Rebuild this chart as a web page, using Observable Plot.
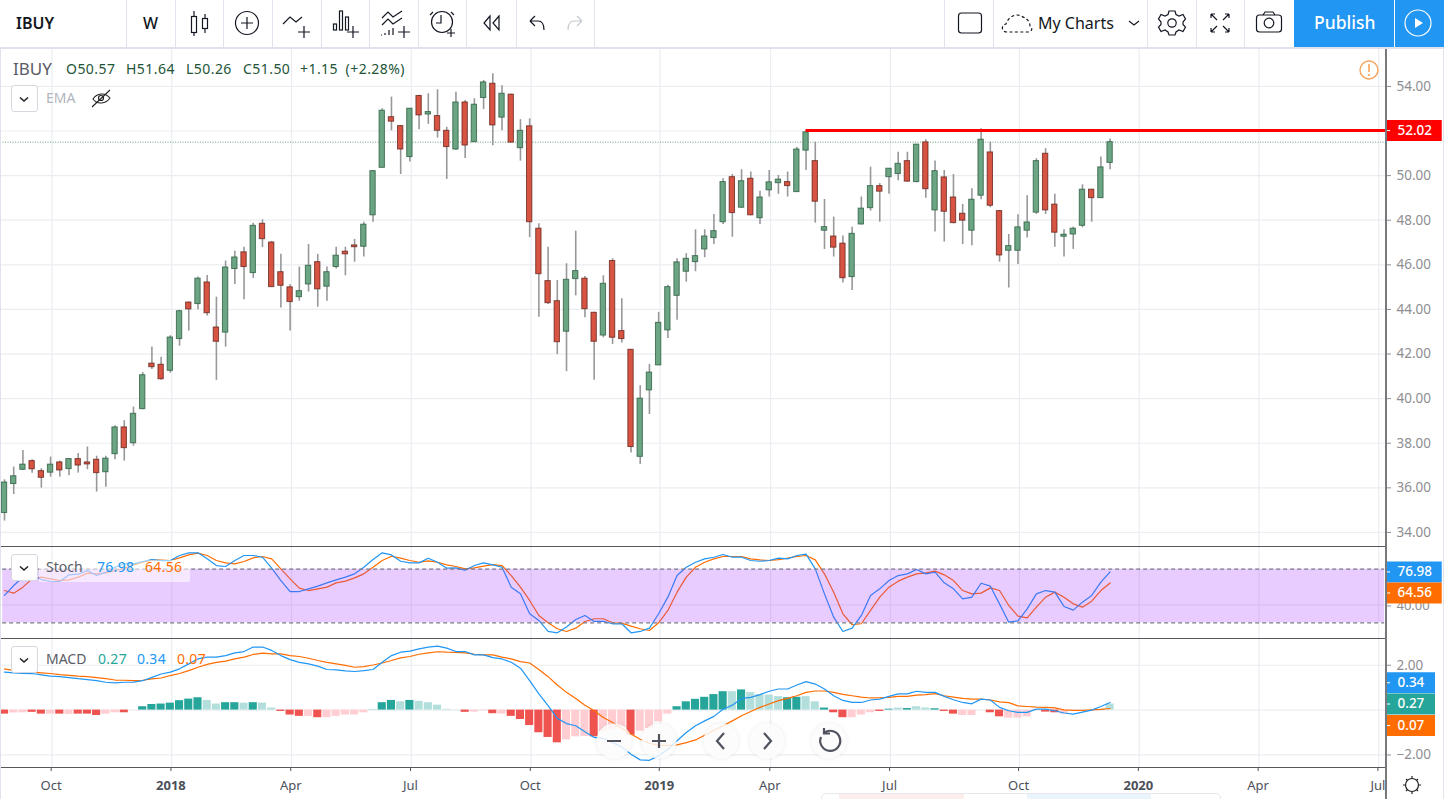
<!DOCTYPE html>
<html><head><meta charset="utf-8">
<script src="https://cdn.jsdelivr.net/npm/d3@7"></script>
<script src="https://cdn.jsdelivr.net/npm/@observablehq/plot@0.6"></script>
<style>
html,body{margin:0;padding:0;background:#fff;overflow:hidden}
#chart{position:relative;width:1444px;height:799px;overflow:hidden;font-family:"Noto Sans",sans-serif;background:#fff}
#chart svg{position:absolute;display:block}
.t{position:absolute;transform:translateY(-50%);white-space:nowrap;line-height:1}
.c{position:absolute}
.btn{position:absolute;left:11px;width:25px;height:25px;border:1px solid #d6d8e0;border-radius:3px;background:#fff;box-sizing:content-box}
</style></head><body><div id="chart"></div>
<script>
const barOpen=[34.87,36.17,36.81,37.20,36.75,36.68,37.14,36.84,37.29,37.14,
37.26,36.70,37.51,38.71,38.00,39.53,41.57,41.52,41.25,42.67,
44.31,44.24,45.21,43.19,42.96,45.81,46.56,45.63,47.84,47.00,
45.67,44.99,44.55,45.12,46.12,45.02,45.90,46.59,46.87,46.81,
48.22,50.35,52.62,52.22,50.83,53.57,52.74,52.67,52.01,51.17,
53.28,51.50,53.48,54.12,52.60,53.63,51.23,52.21,47.62,45.27,
44.37,43.00,45.36,45.38,43.85,42.83,46.17,43.03,42.19,37.39,
40.37,41.49,43.06,44.61,45.69,46.12,46.69,47.20,47.91,49.93,
48.56,49.86,48.09,49.34,49.66,49.71,49.26,51.12,50.65,47.53,
47.27,46.95,45.45,47.81,48.54,49.53,49.93,50.07,50.65,49.71,
51.49,48.44,49.92,49.02,48.29,47.53,49.10,51.04,48.41,46.63,
46.63,47.53,48.34,50.98,48.70,47.26,47.36,47.75,49.37,48.99,
50.57];
const barHigh=[36.36,36.93,37.68,37.26,36.86,37.38,37.20,37.31,37.54,37.83,
37.42,37.42,38.78,39.01,39.62,41.17,42.31,41.86,42.82,43.96,
44.33,45.45,45.52,44.55,46.17,46.61,46.79,47.86,48.02,47.05,
46.47,45.11,45.90,46.91,46.47,45.90,46.79,46.79,47.14,47.91,
50.23,53.00,53.52,52.25,53.01,53.60,53.67,53.85,52.17,53.74,
53.37,53.45,54.27,54.57,54.03,53.65,52.51,52.55,47.84,46.79,
45.30,46.05,47.51,45.48,43.87,45.51,46.27,44.48,42.20,40.58,
41.53,43.87,45.08,46.27,46.50,47.57,47.57,48.26,49.86,50.05,
50.26,50.16,49.30,50.23,50.01,50.16,51.26,52.02,51.50,48.93,
48.14,47.29,47.69,49.04,50.38,49.64,50.32,51.05,51.05,51.40,
51.61,50.65,50.23,50.05,48.71,49.41,52.10,51.50,48.44,47.36,
48.25,49.10,50.76,51.21,49.16,47.57,47.69,49.59,49.38,50.83,
51.64];
const barLow=[34.51,35.70,36.78,36.66,35.99,36.48,36.48,36.54,36.66,36.81,
35.81,36.03,37.26,37.20,37.87,39.50,41.31,40.82,41.14,42.35,
43.03,43.99,43.70,40.82,42.31,45.12,44.43,45.39,46.77,44.99,
44.06,43.03,44.37,44.78,44.10,44.37,45.81,45.51,46.12,46.35,
47.91,50.34,52.01,50.05,50.61,52.06,52.30,51.68,49.83,51.13,
50.77,51.49,52.96,51.34,52.01,51.47,50.65,47.22,43.65,44.22,
41.98,41.21,44.61,43.63,40.82,42.73,42.43,42.49,37.56,37.05,
39.29,41.48,42.70,43.51,45.22,45.69,46.32,46.91,47.81,47.24,
48.54,48.20,47.81,49.04,49.16,49.04,49.25,50.23,47.87,46.69,
46.35,45.18,44.85,47.78,48.41,47.91,49.16,49.77,49.71,49.68,
48.99,47.47,47.02,47.84,46.91,46.86,48.92,48.56,46.12,44.96,
46.02,47.20,48.26,48.26,46.79,46.35,46.69,47.66,47.91,48.98,
50.26];
const barClose=[36.24,36.52,37.04,36.83,36.45,37.04,36.78,37.29,37.00,37.05,
36.66,37.31,38.71,37.78,39.32,41.05,41.41,40.87,42.74,43.92,
44.00,45.38,43.83,42.55,45.88,46.33,45.90,47.75,47.15,45.00,
45.06,44.33,44.82,45.96,44.90,45.67,46.41,46.47,46.79,47.80,
50.20,52.91,52.42,51.17,53.00,52.70,52.85,52.01,51.28,53.28,
51.35,53.18,54.18,52.25,53.67,51.48,52.01,47.91,45.58,44.28,
42.53,45.33,45.72,44.01,42.55,45.15,42.73,42.67,37.83,40.00,
41.17,43.40,45.00,46.11,46.27,46.39,47.27,47.51,49.71,48.32,
49.75,48.22,49.02,49.70,49.82,49.53,51.17,51.94,48.83,47.69,
46.77,45.40,47.39,48.52,49.53,49.28,50.31,50.53,49.73,51.39,
49.39,50.20,48.38,47.87,47.98,48.92,51.61,48.65,46.42,46.84,
47.68,47.90,50.65,48.44,47.44,47.35,47.62,49.37,48.99,50.37,
51.50];
const stochK=[50.6,61.7,71.1,73.7,68.4,66.2,66.2,73.7,74.4,78.5,
72.9,76.6,82.2,86.0,86.0,88.6,90.8,89.7,89.7,95.3,
98.3,98.3,91.6,84.1,83.0,89.7,95.3,95.3,93.4,81.1,
67.3,55.0,55.0,58.0,61.0,64.7,68.1,71.1,74.8,82.2,
90.8,98.3,96.0,88.9,87.1,87.1,92.3,87.8,81.1,81.5,
78.9,84.1,87.1,84.8,82.2,59.9,52.4,30.1,22.6,10.3,
8.8,15.2,23.7,28.2,21.5,21.5,18.9,18.9,8.8,10.3,
14.0,30.1,48.7,72.9,82.2,87.8,91.6,93.4,96.4,93.4,
93.4,89.7,88.9,89.7,92.3,91.6,95.3,96.8,80.4,52.4,
26.3,10.3,14.0,28.2,50.6,58.0,67.3,72.9,74.8,79.6,
74.8,76.6,64.7,58.0,46.8,48.7,64.3,61.0,41.2,20.7,
22.2,35.6,52.4,56.1,54.3,38.3,34.2,43.1,50.6,65.5,
76.98];
const stochD=[56.1,53.2,59.9,69.2,71.1,69.2,67.3,68.1,71.1,75.5,
74.8,75.9,78.5,81.1,84.8,87.8,90.1,90.1,89.7,92.7,
96.0,97.9,95.3,89.7,87.1,86.0,88.6,92.7,94.2,91.6,
80.4,69.2,58.8,56.1,58.0,59.9,64.7,66.6,70.3,74.8,
82.2,89.7,94.5,92.3,89.7,87.8,89.3,87.8,84.8,83.0,
80.4,81.5,83.4,85.2,84.1,72.9,59.9,45.0,28.2,20.0,
13.3,10.3,14.0,21.5,24.5,24.5,20.0,19.6,16.3,13.3,
11.4,20.0,33.8,54.3,71.1,82.2,87.8,91.6,94.2,94.2,
94.2,91.6,90.4,89.7,90.8,92.3,94.2,95.3,90.4,74.8,
54.3,30.1,17.8,18.9,33.8,48.7,59.9,66.6,71.1,74.8,
75.9,77.8,73.7,67.3,56.1,52.4,53.2,59.1,56.1,39.4,
27.5,25.6,37.5,48.7,54.3,48.7,41.2,37.5,44.2,56.1,
64.56];
const macdLine=[1.69,1.66,1.64,1.63,1.57,1.51,1.49,1.45,1.40,1.36,
1.31,1.24,1.21,1.24,1.25,1.31,1.46,1.61,1.69,1.84,
2.06,2.28,2.36,2.36,2.43,2.55,2.61,2.81,2.81,2.66,
2.43,2.25,2.13,2.06,1.96,1.81,1.79,1.75,1.72,1.76,
1.81,2.13,2.43,2.58,2.63,2.73,2.81,2.85,2.76,2.61,
2.61,2.46,2.46,2.34,2.28,2.13,1.87,1.31,0.72,0.20,
-0.37,-0.60,-0.70,-0.97,-1.22,-1.27,-1.45,-1.64,-1.97,-2.22,
-2.24,-2.04,-1.75,-1.37,-1.00,-0.70,-0.48,-0.28,0.04,0.22,
0.52,0.57,0.69,0.84,0.94,0.94,1.12,1.27,1.16,0.94,
0.64,0.43,0.34,0.34,0.45,0.49,0.61,0.72,0.72,0.84,
0.79,0.79,0.61,0.46,0.34,0.28,0.49,0.45,0.12,-0.03,
-0.10,-0.10,0.04,0.04,-0.03,-0.13,-0.18,-0.09,0.00,0.16,
0.34];
const signalLine=[1.84,1.76,1.72,1.69,1.66,1.63,1.58,1.55,1.51,1.49,
1.45,1.40,1.34,1.33,1.31,1.33,1.39,1.43,1.54,1.63,
1.76,1.91,2.04,2.13,2.18,2.28,2.36,2.48,2.54,2.51,
2.51,2.43,2.39,2.31,2.21,2.13,2.06,1.99,1.91,1.94,
2.01,2.10,2.21,2.33,2.39,2.49,2.55,2.60,2.58,2.57,
2.55,2.49,2.46,2.46,2.36,2.28,2.16,2.10,1.81,1.49,
1.12,0.79,0.52,0.22,-0.03,-0.33,-0.55,-0.82,-1.07,-1.30,
-1.48,-1.57,-1.57,-1.55,-1.45,-1.33,-1.12,-0.90,-0.70,-0.48,
-0.25,-0.06,0.12,0.27,0.42,0.52,0.64,0.79,0.85,0.85,
0.79,0.70,0.64,0.58,0.54,0.55,0.57,0.61,0.61,0.67,
0.69,0.73,0.64,0.58,0.52,0.49,0.49,0.45,0.37,0.33,
0.19,0.16,0.13,0.12,0.10,0.01,-0.01,-0.01,0.01,0.03,
0.07];
const histValues=[-.18,-.13,-.12,-.10,-.18,-.18,-.18,-.19,-.18,-.18,-.24,-.18,-.12,-.12,0,
.15,.25,.27,.31,.42,.49,.55,.43,.27,.33,.33,.31,.33,.31,.09,
-.06,-.22,-.28,-.28,-.34,-.34,-.28,-.22,-.22,-.12,
.01,.33,.43,.37,.43,.39,.33,.22,.03,.01,
-.10,-.09,-.03,-.16,-.18,-.28,-.42,-.69,-1.01,-1.22,-1.46,
-1.33,-1.19,-1.18,-1.19,-.97,-.87,-.78,-1.12,-.94,-.82,-.52,-.18,
.15,.37,.48,.57,.69,.82,.82,.90,.78,.69,.67,.60,.55,.57,.60,.37,.09,
-.12,-.34,-.34,-.22,-.12,-.06,.04,.09,.07,.15,.09,.06,
-.06,-.18,-.24,-.24,0,-.12,-.30,-.36,-.36,-.30,-.01,-.09,-.12,-.18,-.01,0,0,.03,.27];
const histStrong="dllddldldddlld l ddddddd llddldll dddldlllll dddldlllll dlldldddddd llldllldllll ddddddldllllddll dddlll ddldll dddl l dddll l ddd lll dd".replace(/ /g,"").split("");
const monthWeeks=[5,31,44,57,83,96,110,136,149];
const monthLabels=["Oct","Apr","Jul","Oct","Apr","Jul","Oct","Apr","Jul"];
const yearWeeks=[18,71,123];
const yearLabels=["2018","2019","2020"];
const priceTicks=[34,36,38,40,42,44,46,48,50,52,54];
const stochTicks=[40];
const macdTicks=[2,-2];
const macdGrid=[2,0,-2];
const stochBand=[20,80];
const resistance=52.02;
const resistanceFromWeek=87;
const lastClose=51.50;
const stochTags=[{v:76.98,c:"#2196f3",dy:0},{v:64.56,c:"#ff6d00",dy:10}];
const macdTags=[{v:0.34,c:"#2196f3",dy:-19.7},{v:0.27,c:"#26a69a",dy:0},{v:0.07,c:"#ff6d00",dy:17}];

const bars=barOpen.map((o,i)=>({i,o,h:barHigh[i],l:barLow[i],c:barClose[i],k:stochK[i],d:stochD[i],m:macdLine[i],s:signalLine[i],hv:histValues[i],st:histStrong[i]}));
const axisEnd=150, gridColor="#ebedf1", tickColor="#8e8e92";
const allWeeks=[...monthWeeks,...yearWeeks];
const FONT='"Noto Sans",sans-serif';
const vgrid=()=>Plot.ruleX(allWeeks,{stroke:gridColor,strokeWidth:1.2,dx:1.4});
const chart=document.getElementById("chart");
function pane(top,height,domain,marks){
  const svg=Plot.plot({width:1444,height,marginLeft:0,marginRight:58,marginTop:0,marginBottom:0,
    x:{domain:[-0.434,axisEnd],axis:null},y:{domain,axis:null},
    style:{background:"transparent",overflow:"visible",fontFamily:FONT},marks});
  svg.style.left="0";svg.style.top=top+"px";chart.appendChild(svg);return svg;
}
function tag(t,w){return [
  Plot.ruleY([t.v],{x1:axisEnd-0.1,x2:axisEnd+w,stroke:t.c,strokeWidth:21,dy:t.dy}),
  Plot.ruleY([t.v],{x1:axisEnd,x2:axisEnd+0.45,stroke:"#fff",strokeWidth:1,dy:t.dy}),
  Plot.text([t.v],{x:()=>axisEnd,y:d=>d,text:d=>d3.format(".2f")(d),dx:11,dy:t.dy,textAnchor:"start",fill:"#fff",fontSize:13.5,fontWeight:500})
];}
// Price pane
pane(48,498,[33.37,55.70],[
  vgrid(),
  Plot.ruleY(priceTicks,{stroke:gridColor,strokeWidth:1.2}),
  Plot.ruleY([lastClose],{stroke:"#6ba583",strokeWidth:1,strokeDasharray:"1,1.5"}),
  Plot.ruleX(bars,{x:"i",y1:"l",y2:"h",stroke:"#98989b",strokeWidth:1.6}),
  Plot.rect(bars,{x1:d=>d.i-0.29,x2:d=>d.i+0.29,y1:"o",y2:"c",
    fill:d=>d.c>=d.o?"#6ba583":"#d75442",stroke:d=>d.c>=d.o?"#225437":"#5b1a13",strokeWidth:1,strokeOpacity:.72}),
  Plot.ruleY([resistance],{x1:resistanceFromWeek,x2:axisEnd,stroke:"#ff0000",strokeWidth:3}),
  Plot.axisY({anchor:"right",ticks:priceTicks,tickFormat:d3.format(".2f"),tickSize:4,tickPadding:6,color:tickColor,fontSize:13.5,label:null}),
  ...tag({v:resistance,c:"#ff0000",dy:0},6.05)
]);
// Stoch pane
pane(546,92.5,[1.86,105.4],[
  vgrid(),
  Plot.ruleY(stochTicks,{stroke:gridColor,strokeWidth:1.2}),
  Plot.line(bars,{x:"i",y:"d",stroke:"#ff6d00",strokeWidth:1.2}),
  Plot.line(bars,{x:"i",y:"k",stroke:"#2196f3",strokeWidth:1.2}),
  Plot.rect(stochBand.slice(0,1),{x1:()=>-0.2,x2:()=>axisEnd-0.2,y1:()=>stochBand[0],y2:()=>stochBand[1],fill:"#9915ff",fillOpacity:.22}),
  Plot.ruleY(stochBand,{x1:-0.2,x2:axisEnd-0.2,stroke:"#787b86",strokeWidth:1.2,strokeDasharray:"4,3"}),
  Plot.axisY({anchor:"right",ticks:stochTicks,tickFormat:d3.format(".2f"),tickSize:4,tickPadding:6,dy:1,color:tickColor,fontSize:13,label:null}),
  ...stochTags.flatMap(t=>tag(t,6.05))
]);
// MACD pane
pane(638.5,128.5,[-2.582,3.147],[
  vgrid(),
  Plot.ruleY(macdGrid,{stroke:gridColor,strokeWidth:1.2}),
  Plot.rect(bars,{x1:d=>d.i-0.44,x2:d=>d.i+0.44,y1:()=>0,y2:"hv",
    fill:d=>d.hv>=0?(d.st==="d"?"#26a69a":"#b2dfdb"):(d.st==="d"?"#ef5350":"#ffcdd2")}),
  Plot.line(bars,{x:"i",y:"s",stroke:"#ff6d00",strokeWidth:1.2}),
  Plot.line(bars,{x:"i",y:"m",stroke:"#2196f3",strokeWidth:1.2}),
  Plot.axisY({anchor:"right",ticks:macdTicks,tickFormat:d3.format(".2f"),tickSize:4,tickPadding:6,color:tickColor,fontSize:13.5,label:null}),
  ...macdTags.flatMap(t=>tag(t,5.32))
]);
// Time axis
const ax=Plot.plot({width:1444,height:32,marginLeft:0,marginRight:58,marginTop:0,marginBottom:32,
  x:{domain:[-0.434,axisEnd]},y:{axis:null},
  style:{background:"transparent",overflow:"visible",fontFamily:FONT},
  marks:[
    Plot.axisX({anchor:"bottom",ticks:monthWeeks,tickFormat:(d)=>monthLabels[monthWeeks.indexOf(d)],tickSize:4,tickPadding:9,dx:0.6,color:"#4c5059",fontSize:13,label:null}),
    Plot.axisX({anchor:"bottom",ticks:yearWeeks,tickFormat:(d)=>yearLabels[yearWeeks.indexOf(d)],tickSize:4,tickPadding:9,dx:0.6,color:"#4c5059",fontSize:13,fontWeight:700,label:null})
  ]});
ax.style.left="0";ax.style.top="767px";chart.appendChild(ax);

// Chrome: separators, legends, toolbar
const dark="#131722";
const chrome=document.createElement("div");
chrome.innerHTML=`
<div class="c" style="left:0;top:546px;width:1386px;height:1.3px;background:#55575c"></div>
<div class="c" style="left:0;top:638px;width:1386px;height:1.3px;background:#55575c"></div>
<div class="c" style="left:0;top:767px;width:1386px;height:1.3px;background:#55575c"></div>
<div class="c" style="left:1385.4px;top:48px;width:1.4px;height:751px;background:#77797d"></div>
<div class="c" style="left:0;top:47px;width:1444px;height:1.5px;background:#e0e3eb"></div>
<div class="c" style="left:0;top:0;width:1.2px;height:799px;background:#e0e3eb"></div>
<div class="c" style="left:1443px;top:0;width:1px;height:799px;background:#e0e3eb"></div>
<div class="c" style="left:0;top:0;width:1444px;height:47px;background:#fff"></div>
<div class="c" style="left:1294px;top:0;width:150px;height:47px;background:#2196f3"></div>
<div class="c" style="left:1394px;top:0;width:1px;height:47px;background:#fff"></div>
${[126,175,222.7,271.7,320.7,369,418,466,515.5,594,944,993.3,1147,1196,1244].map(x=>`<div class="c" style="left:${x}px;top:0;width:1px;height:47px;background:#e0e3eb"></div>`).join("")}
<div class="t" style="left:16px;top:23px;font-size:16px;font-weight:600;color:${dark}">IBUY</div>
<div class="t" style="left:143px;top:23px;font-size:16px;font-weight:500;color:${dark}">W</div>
<div class="t" style="left:1038px;top:23px;font-size:16px;color:${dark}">My Charts</div>
<div class="t" style="left:1314px;top:23px;font-size:17.5px;font-weight:500;color:#fff">Publish</div>

<div class="t" style="left:13px;top:68px;font-size:17px;color:#5a5d66">IBUY</div>
${[["O50.57",66],["H51.64",126],["L50.26",186],["C51.50",243],["+1.15",300],["(+2.28%)",345.6]].map(([s,x])=>`<div class="t" style="left:${x}px;top:69px;font-size:14px;letter-spacing:.45px;color:#225437">${s}</div>`).join("")}
<div class="btn" style="top:85px"></div>
<div class="t" style="left:46px;top:98px;font-size:14px;color:#b2b5be">EMA</div>

<div class="c" style="left:39px;top:560px;width:151px;height:22px;background:rgba(255,255,255,.55)"></div>
<div class="btn" style="top:554px"></div>
<div class="t" style="left:46px;top:567px;font-size:14px;color:#5a5d66">Stoch</div>
<div class="t" style="left:97px;top:567px;font-size:14px;letter-spacing:.3px;color:#2196f3">76.98</div>
<div class="t" style="left:145px;top:567px;font-size:14px;letter-spacing:.3px;color:#ff6d00">64.56</div>

<div class="btn" style="top:646px"></div>
<div class="t" style="left:46px;top:659px;font-size:14px;color:#5a5d66">MACD</div>
<div class="t" style="left:98px;top:659px;font-size:14px;letter-spacing:.3px;color:#26a69a">0.27</div>
<div class="t" style="left:137px;top:659px;font-size:14px;letter-spacing:.3px;color:#2196f3">0.34</div>
<div class="t" style="left:177px;top:659px;font-size:14px;letter-spacing:.3px;color:#ff6d00">0.07</div>

<div class="c" style="left:821px;top:793px;width:400px;height:8px;background:#fff;border:1px solid #e6e8ee;border-radius:5px 5px 0 0;box-sizing:border-box"></div>
<div class="c" style="left:839px;top:794px;width:125px;height:6px;background:#fdeeee"></div>
<div class="c" style="left:1027px;top:794px;width:124px;height:6px;background:#e9f4fd"></div>

<svg width="1444" height="799" style="left:0;top:0;pointer-events:none" fill="none" stroke="${dark}" stroke-width="1.2">
  <g>
   <rect x="191.5" y="16.5" width="5" height="16"/><path d="M194 11V16.5M194 32.5V36"/>
   <rect x="202.5" y="18.5" width="5" height="10"/><path d="M205 14V18.5M205 28.5V33"/>
   <circle cx="247" cy="23" r="11.5"/><path d="M241 23H253M247 17V29"/>
   <path d="M283 24L290 17L296 22L302 17"/><path d="M298 32H310M304 26V38"/>
   <rect x="333.5" y="24" width="3" height="6"/><rect x="339.5" y="11" width="3" height="19"/><rect x="345.5" y="17" width="3" height="13"/>
   <path d="M347 32H359M353 26V38"/>
   <path d="M382 18L388 12L393 17L402 11M382 25L388 19L393 24L402 18"/>
   <path d="M381 35h1M385 33v2M389 30v5M393 28v7M398 32H410M404 26V38"/>
   <circle cx="442" cy="22" r="10.5"/><path d="M441 15V23H436M433 12l-3 3M451 12l3 3M447 33H455" /><path d="M451 29V37"/>
   <path d="M490 16L484 23L490 30ZM499 16L493 23L499 30Z"/>
   <path d="M530 21H538C542 21 544 24 544 30M530 21L535 16M530 21L535 26"/>
   <path stroke="#c6c8d0" d="M582 21H574C570 21 568 24 568 30M582 21L577 16M582 21L577 26"/>
   <rect x="958.5" y="13" width="23" height="20" rx="3"/>
   <path stroke-dasharray="3,2.4" d="M1007 32C1001 32 1001 25 1006 24C1008 17 1016 13 1021 16C1026 18 1030 21 1030 26C1033 28 1032 32 1028 32Z"/>
   <path d="M1129 21L1134 25L1139 21"/>
   <circle cx="1172" cy="23" r="4.2"/>
   <path d="M1169 11H1175L1176 14.5L1179 16L1183 14.5L1185.5 19L1183 22V24.5L1185.5 27L1183 31.5L1179 30L1176 32L1175 35H1169L1168 32L1165 30L1161 31.5L1158.5 27L1161 24.5V22L1158.5 19L1161 14.5L1165 16L1168 14.5Z"/>
   <path d="M1211 14L1217 20M1211 14V18M1211 14H1215M1229 14L1223 20M1229 14V18M1229 14H1225M1211 32L1217 26M1211 32V28M1211 32H1215M1229 32L1223 26M1229 32V28M1229 32H1225"/>
   <rect x="1256.5" y="15" width="25" height="17" rx="3"/><path d="M1263 15L1265 12H1273L1275 15"/><circle cx="1269" cy="23" r="4.8"/>
   <circle cx="1418" cy="23" r="13" stroke="#fff"/><path d="M1415 18L1423 23L1415 28Z" fill="#fff" stroke="none"/>
   <circle cx="1369" cy="70" r="9" stroke="#f7a35c" stroke-width="1.4"/><path d="M1369 64V72M1369 74V76" stroke="#f7a35c" stroke-width="1.6"/>
   <path d="M93 99C97 93 105 92 110 98C106 104 97 105 93 99ZM92 107L110 90" stroke="#222" stroke-width="1.1"/><circle cx="101" cy="98" r="2.5" stroke="#222"/>
   <path d="M20 97.5L24 101L28 97.5M20 566.5L24 570L28 566.5M20 658.5L24 662L28 658.5" stroke="#222" stroke-width="1.6"/>
  </g>
  <g stroke="none" fill="#fff" fill-opacity=".82" style="filter:drop-shadow(0 0 2px rgba(0,0,0,.1))">
   <circle cx="614" cy="741" r="17.5"/><circle cx="659" cy="741" r="17.5"/><circle cx="721" cy="741" r="17.5"/><circle cx="767" cy="741" r="17.5"/><circle cx="829" cy="741" r="17.5"/>
  </g>
  <g stroke="#50535e" stroke-width="2.2">
   <path d="M607 741H621M652 741H666M659 734V748M724 733L717 741L724 749M764 733L771 741L764 749"/>
   <path d="M824 733A10 10 0 1 1 821 737M824 728V733.5H830" />
  </g>
  <g stroke="#222" stroke-width="1.2">
   <circle cx="1412" cy="785" r="6.5"/>
   <path d="M1412 776V778M1412 792V794M1403 785H1405M1419 785H1421M1406 779L1407.5 780.5M1416.5 789.5L1418 791M1418 779L1416.5 780.5M1407.5 789.5L1406 791"/>
  </g>
</svg>`;
while(chrome.firstChild)chart.appendChild(chrome.firstChild);
</script></body></html>
